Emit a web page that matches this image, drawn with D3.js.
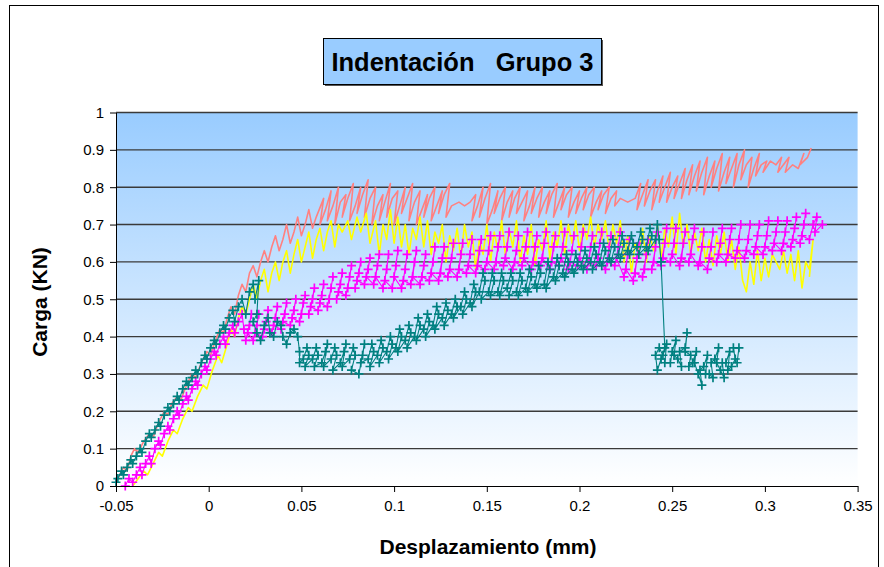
<!DOCTYPE html>
<html><head><meta charset="utf-8">
<script src="https://cdn.jsdelivr.net/npm/d3@7"></script>
<style>
body{margin:0;background:#fff;}
svg{display:block;font-family:"Liberation Sans",Arial,sans-serif;}
</style>
</head><body>
<svg id="c" width="884" height="567"></svg>
<script>
const titleText = "Indentación   Grupo 3";
const xTitle = "Desplazamiento (mm)";
const yTitle = "Carga (KN)";
const xTickValues = [-0.05,0,0.05,0.1,0.15,0.2,0.25,0.3,0.35];
const xTickLabels = ["-0.05","0","0.05","0.1","0.15","0.2","0.25","0.3","0.35"];
const yTickValues = [0,0.1,0.2,0.3,0.4,0.5,0.6,0.7,0.8,0.9,1];
const yTickLabels = ["0","0.1","0.2","0.3","0.4","0.5","0.6","0.7","0.8","0.9","1"];

// Series 1 (salmon line)
const salmon = [[-0.049,0.02],[-0.046,0.05],[-0.044,0.04],[-0.042,0.08],[-0.04,0.1],[-0.038,0.09],[-0.035,0.12],[-0.032,0.14],[-0.03,0.13],[-0.027,0.17],[-0.024,0.2],[-0.022,0.19],[-0.02,0.22],[-0.017,0.24],[-0.015,0.23],[-0.012,0.27],[-0.009,0.3],[-0.007,0.29],[-0.004,0.33],[-0.001,0.36],[0.001,0.35],[0.003,0.38],[0.006,0.42],[0.008,0.41],[0.01,0.45],[0.012,0.48],[0.014,0.46],[0.016,0.51],[0.018,0.54],[0.02,0.52],[0.022,0.57],[0.024,0.59],[0.026,0.56],[0.028,0.6],[0.03,0.63],[0.032,0.6],[0.034,0.64],[0.036,0.67],[0.038,0.63],[0.04,0.66],[0.042,0.7],[0.044,0.65],[0.046,0.68],[0.048,0.72],[0.05,0.67],[0.052,0.7],[0.054,0.74],[0.056,0.69],[0.058,0.72],
[0.062,0.77],[0.06,0.7],[0.063,0.74],[0.066,0.79],[0.064,0.71],[0.067,0.75],[0.07,0.8],[0.068,0.7],[0.071,0.76],[0.074,0.78],[0.072,0.72],[0.075,0.77],[0.078,0.81],[0.076,0.71],[0.079,0.75],[0.082,0.8],[0.08,0.73],[0.083,0.78],[0.086,0.82],[0.084,0.72],[0.087,0.77],[0.09,0.8],[0.088,0.7],[0.091,0.75],[0.094,0.78],[0.092,0.71],[0.095,0.76],[0.098,0.81],[0.096,0.72],[0.099,0.77],[0.102,0.79],[0.1,0.7],[0.103,0.75],[0.106,0.8],[0.104,0.73],[0.107,0.77],[0.11,0.81],[0.108,0.71],[0.111,0.76],[0.114,0.79],[0.112,0.7],[0.115,0.74],[0.118,0.78],[0.116,0.72],[0.119,0.77],[0.122,0.8],[0.12,0.71],[0.123,0.75],[0.126,0.79],[0.124,0.73],[0.127,0.78],[0.13,0.81],[0.128,0.72],[0.131,0.75],[0.135,0.76],[0.138,0.75],[0.141,0.76],[0.144,0.78],[0.142,0.71],[0.145,0.75],[0.148,0.8],[0.146,0.72],[0.149,0.77],[0.152,0.81],[0.15,0.7],[0.153,0.74],[0.156,0.79],[0.154,0.73],[0.157,0.77],[0.16,0.8],[0.158,0.71],[0.161,0.76],[0.164,0.79],[0.162,0.72],[0.165,0.77],[0.168,0.8],[0.166,0.73],[0.169,0.76],[0.172,0.79],[0.17,0.71],[0.173,0.75],[0.176,0.8],[0.174,0.73],[0.177,0.77],[0.18,0.8],[0.178,0.72],[0.181,0.76],[0.184,0.79],[0.182,0.73],[0.185,0.78],[0.188,0.81],[0.186,0.72],[0.189,0.76],[0.192,0.8],[0.19,0.74],[0.193,0.78],[0.196,0.8],[0.194,0.72],[0.197,0.76],[0.2,0.79],[0.198,0.73],[0.201,0.77],[0.204,0.8],[0.202,0.74],[0.205,0.78],[0.208,0.8],[0.206,0.72],[0.209,0.76],[0.212,0.79],[0.21,0.74],[0.213,0.78],[0.216,0.8],[0.214,0.73],[0.217,0.77],[0.22,0.79],[0.219,0.75],[0.222,0.77],[0.226,0.76],[0.23,0.77],[0.233,0.81],[0.231,0.74],[0.234,0.78],[0.237,0.82],[0.235,0.75],[0.238,0.79],[0.241,0.82],[0.239,0.74],[0.242,0.79],[0.245,0.83],[0.243,0.76],[0.246,0.8],[0.249,0.84],[0.247,0.76],[0.25,0.8],[0.253,0.83],[0.251,0.77],[0.254,0.81],[0.257,0.85],[0.255,0.77],[0.258,0.82],[0.261,0.86],[0.259,0.78],[0.262,0.83],[0.265,0.87],[0.263,0.79],[0.266,0.84],[0.269,0.88],[0.267,0.78],[0.27,0.83],[0.273,0.87],[0.271,0.8],[0.274,0.85],[0.277,0.89],[0.275,0.79],[0.278,0.84],[0.281,0.88],[0.279,0.81],[0.282,0.85],[0.285,0.89],[0.283,0.8],[0.286,0.86],[0.289,0.9],[0.287,0.82],[0.29,0.86],[0.293,0.88],[0.291,0.8],[0.294,0.85],[0.297,0.89],[0.295,0.83],[0.298,0.86],[0.301,0.87],[0.299,0.84],[0.303,0.87],[0.306,0.86],[0.309,0.88],[0.307,0.84],[0.31,0.86],[0.313,0.88],[0.311,0.84],[0.315,0.86],[0.318,0.85],[0.321,0.89],[0.319,0.86],[0.323,0.88],[0.325,0.905]];

// Series 2 (yellow line)
const yellow = [[-0.041,0.0],[-0.038,0.02],[-0.035,0.04],[-0.033,0.03],[-0.03,0.06],[-0.027,0.09],[-0.025,0.08],[-0.022,0.12],[-0.019,0.15],[-0.017,0.14],[-0.014,0.18],[-0.011,0.21],[-0.009,0.2],[-0.006,0.24],[-0.003,0.27],[-0.001,0.26],[0.002,0.31],[0.005,0.35],[0.007,0.33],[0.01,0.38],[0.012,0.42],[0.014,0.4],[0.016,0.45],[0.018,0.48],[0.02,0.46],[0.022,0.5],[0.024,0.54],[0.026,0.5],[0.028,0.55],[0.03,0.58],[0.032,0.52],[0.034,0.57],[0.036,0.6],[0.038,0.55],[0.04,0.6],[0.042,0.63],[0.044,0.57],[0.046,0.62],[0.048,0.66],[0.05,0.6],[0.052,0.64],[0.054,0.68],[0.056,0.61],[0.058,0.66],[0.06,0.69],[0.062,0.63],[0.064,0.68],[0.066,0.71],[0.068,0.64],[0.07,0.7],[0.072,0.68],[0.075,0.71],[0.077,0.66],[0.08,0.72],[0.082,0.68],[0.085,0.73],[0.087,0.65],[0.09,0.71],[0.092,0.62],[0.094,0.7],[0.096,0.66],[0.098,0.74],[0.1,0.65],
[0.102,0.72],[0.104,0.64],[0.106,0.7],[0.108,0.62],[0.11,0.69],[0.112,0.66],[0.114,0.72],[0.116,0.64],[0.118,0.71],[0.12,0.62],[0.122,0.68],[0.124,0.65],[0.126,0.7],[0.128,0.6],[0.13,0.67],[0.132,0.63],[0.134,0.69],[0.136,0.61],[0.138,0.7],[0.14,0.64],[0.142,0.68],[0.144,0.58],[0.146,0.66],[0.148,0.62],[0.15,0.7],[0.152,0.6],[0.154,0.68],[0.156,0.63],[0.158,0.71],[0.16,0.62],[0.162,0.69],[0.164,0.64],[0.166,0.71],[0.168,0.6],[0.17,0.67],[0.172,0.62],[0.174,0.7],[0.176,0.59],[0.178,0.66],[0.18,0.63],[0.182,0.71],[0.184,0.61],[0.186,0.68],[0.188,0.64],[0.19,0.71],[0.192,0.62],[0.194,0.7],[0.196,0.65],[0.198,0.71],[0.2,0.63],[0.202,0.7],[0.204,0.66],[0.206,0.72],[0.208,0.64],[0.21,0.7],[0.212,0.66],[0.214,0.71],[0.216,0.63],[0.218,0.7],[0.22,0.65],[0.222,0.71],[0.224,0.6],[0.226,0.67],[0.228,0.57],[0.23,0.65],[0.232,0.62],[0.234,0.69],[0.236,0.6],[0.238,0.67],[0.24,0.63],[0.242,0.7],[0.244,0.61],[0.246,0.69],[0.248,0.64],[0.25,0.72],[0.252,0.62],[0.254,0.73],[0.256,0.64],[0.258,0.7],[0.26,0.62],[0.262,0.68],[0.264,0.63],[0.266,0.69],[0.268,0.6],[0.27,0.66],[0.272,0.59],[0.274,0.67],[0.276,0.62],[0.278,0.68],[0.28,0.6],[0.282,0.66],[0.284,0.58],[0.286,0.64],[0.288,0.55],[0.29,0.52],[0.292,0.6],[0.294,0.54],[0.296,0.63],[0.298,0.55],[0.3,0.61],[0.302,0.56],[0.304,0.62],[0.306,0.6],[0.308,0.58],[0.31,0.63],[0.312,0.57],[0.314,0.62],[0.316,0.55],[0.318,0.63],[0.32,0.53],[0.322,0.6],[0.324,0.58],[0.326,0.66],[0.324,0.56]];

// Series 3 (magenta, + markers)
const magenta = [[-0.045,0.0],[-0.043,0.02],[-0.041,0.01],[-0.039,0.03],[-0.037,0.05],[-0.036,0.03],[-0.034,0.06],[-0.032,0.08],[-0.031,0.06],[-0.029,0.1],[-0.027,0.12],[-0.026,0.11],[-0.024,0.14],[-0.022,0.16],[-0.021,0.15],[-0.019,0.18],[-0.017,0.2],[-0.016,0.19],[-0.014,0.22],[-0.012,0.24],[-0.011,0.23],[-0.009,0.26],[-0.007,0.28],[-0.006,0.27],[-0.004,0.3],[-0.002,0.32],[-0.001,0.31],[0.001,0.34],[0.003,0.36],[0.004,0.35],[0.006,0.38],[0.008,0.4],[0.009,0.38],[0.011,0.41],[0.013,0.43],[0.014,0.41],[0.016,0.44],[0.018,0.46],
[0.019,0.42],[0.02,0.39],[0.022,0.43],[0.023,0.46],[0.021,0.41],
[0.024,0.39],[0.026,0.43],[0.027,0.46],[0.025,0.41],
[0.029,0.4],[0.031,0.44],[0.032,0.47],[0.03,0.42],
[0.034,0.41],[0.036,0.45],[0.037,0.48],[0.035,0.43],
[0.039,0.42],[0.041,0.46],[0.042,0.49],[0.04,0.44],
[0.044,0.43],[0.046,0.47],[0.047,0.5],[0.045,0.45],
[0.049,0.44],[0.051,0.49],[0.052,0.51],[0.05,0.46],
[0.054,0.46],[0.056,0.5],[0.057,0.53],[0.055,0.48],
[0.059,0.47],[0.061,0.51],[0.062,0.54],[0.06,0.49],
[0.064,0.48],[0.066,0.53],[0.067,0.56],[0.065,0.5],
[0.069,0.5],[0.071,0.54],[0.072,0.57],[0.07,0.52],
[0.074,0.51],[0.076,0.56],[0.077,0.59],[0.075,0.53],
[0.079,0.53],[0.081,0.57],[0.082,0.6],[0.08,0.55],
[0.084,0.54],[0.086,0.58],[0.087,0.61],[0.085,0.56],
[0.089,0.54],[0.091,0.59],[0.092,0.62],[0.09,0.56],
[0.094,0.53],[0.096,0.58],[0.097,0.62],[0.095,0.55],
[0.099,0.53],[0.101,0.59],[0.102,0.63],[0.1,0.56],
[0.104,0.53],[0.106,0.58],[0.107,0.62],[0.105,0.55],
[0.109,0.54],[0.111,0.6],[0.112,0.63],[0.11,0.56],
[0.114,0.54],[0.116,0.59],[0.117,0.62],[0.115,0.56],
[0.119,0.55],[0.121,0.6],[0.122,0.64],[0.12,0.57],
[0.124,0.55],[0.126,0.61],[0.127,0.64],[0.125,0.57],
[0.129,0.56],[0.131,0.61],[0.132,0.65],[0.13,0.58],
[0.134,0.56],[0.136,0.62],[0.137,0.65],[0.135,0.58],
[0.139,0.57],[0.141,0.62],[0.142,0.66],[0.14,0.59],
[0.144,0.57],[0.146,0.63],[0.147,0.66],[0.145,0.59],
[0.149,0.58],[0.151,0.63],[0.152,0.67],[0.15,0.6],
[0.154,0.58],[0.156,0.64],[0.157,0.67],[0.155,0.6],
[0.159,0.59],[0.161,0.64],[0.162,0.68],[0.16,0.61],
[0.164,0.58],[0.166,0.63],[0.167,0.67],[0.165,0.6],
[0.169,0.59],[0.171,0.64],[0.172,0.68],[0.17,0.61],
[0.174,0.58],[0.176,0.64],[0.177,0.67],[0.175,0.6],
[0.179,0.59],[0.181,0.65],[0.182,0.68],[0.18,0.61],
[0.184,0.58],[0.186,0.64],[0.187,0.67],[0.185,0.6],
[0.189,0.59],[0.191,0.64],[0.192,0.68],[0.19,0.61],
[0.194,0.58],[0.196,0.63],[0.197,0.67],[0.195,0.6],
[0.199,0.59],[0.201,0.64],[0.202,0.68],[0.2,0.61],
[0.204,0.58],[0.206,0.64],[0.207,0.67],[0.205,0.6],
[0.209,0.59],[0.211,0.65],[0.212,0.68],[0.21,0.61],
[0.214,0.58],[0.216,0.64],[0.217,0.67],[0.215,0.6],
[0.219,0.59],[0.221,0.64],[0.222,0.68],[0.22,0.61],
[0.224,0.56],[0.226,0.62],[0.227,0.66],[0.225,0.58],
[0.229,0.55],[0.231,0.61],[0.232,0.65],[0.23,0.57],
[0.234,0.56],[0.236,0.62],[0.237,0.66],[0.235,0.58],
[0.239,0.58],[0.241,0.64],[0.242,0.68],[0.24,0.6],
[0.244,0.59],[0.246,0.65],[0.247,0.69],[0.245,0.61],
[0.249,0.6],[0.251,0.65],[0.252,0.69],[0.25,0.62],
[0.254,0.59],[0.256,0.65],[0.257,0.68],[0.255,0.61],
[0.259,0.6],[0.261,0.66],[0.262,0.69],[0.26,0.62],
[0.264,0.59],[0.266,0.64],[0.267,0.68],[0.265,0.6],
[0.269,0.58],[0.271,0.64],[0.272,0.68],[0.27,0.61],
[0.274,0.6],[0.276,0.65],[0.277,0.69],[0.275,0.62],
[0.279,0.6],[0.281,0.66],[0.282,0.69],[0.28,0.62],
[0.284,0.61],[0.286,0.66],[0.287,0.7],[0.285,0.63],
[0.289,0.61],[0.291,0.66],[0.292,0.7],[0.29,0.63],
[0.294,0.62],[0.296,0.67],[0.297,0.7],[0.295,0.64],
[0.299,0.62],[0.301,0.67],[0.302,0.71],[0.3,0.64],
[0.304,0.63],[0.306,0.68],[0.307,0.71],[0.305,0.65],
[0.309,0.63],[0.311,0.68],[0.312,0.71],[0.31,0.65],
[0.314,0.64],[0.316,0.69],[0.317,0.72],[0.315,0.66],
[0.319,0.65],[0.321,0.7],[0.322,0.73],[0.32,0.67],
[0.324,0.66],[0.326,0.7],[0.328,0.72],[0.327,0.68],[0.331,0.7]];

// Series 4 (teal, + markers)
const teal = [[-0.05,0.01],[-0.049,0.02],[-0.047,0.04],[-0.046,0.03],[-0.044,0.05],[-0.042,0.07],[-0.041,0.06],[-0.039,0.08],[-0.037,0.1],[-0.036,0.09],[-0.034,0.12],[-0.032,0.14],[-0.031,0.13],[-0.029,0.15],[-0.027,0.17],[-0.026,0.16],[-0.024,0.19],[-0.022,0.21],[-0.021,0.2],[-0.019,0.22],[-0.017,0.24],[-0.016,0.23],[-0.014,0.26],[-0.012,0.28],[-0.011,0.27],[-0.009,0.29],[-0.007,0.31],[-0.006,0.3],[-0.004,0.33],[-0.002,0.35],[-0.001,0.34],[0.001,0.37],[0.003,0.39],[0.004,0.38],[0.006,0.41],[0.008,0.43],[0.009,0.42],[0.011,0.45],[0.013,0.47],[0.014,0.44],[0.016,0.48],[0.018,0.5],[0.02,0.46],[0.022,0.52],[0.024,0.54],[0.025,0.5],[0.027,0.55],[0.026,0.46],[0.024,0.44],[0.026,0.41],[0.028,0.39],[0.03,0.43],[0.032,0.45],[0.033,0.41],[0.035,0.4],[0.037,0.44],[0.039,0.43],[0.04,0.4],[0.042,0.38],[0.044,0.41],[0.046,0.42],[0.048,0.4],
[0.049,0.36],[0.049,0.33],
[0.051,0.34],[0.053,0.37],[0.054,0.35],[0.052,0.32],
[0.056,0.34],[0.058,0.37],[0.059,0.35],[0.057,0.32],
[0.061,0.33],[0.063,0.36],[0.064,0.38],[0.062,0.32],
[0.066,0.34],[0.068,0.37],[0.069,0.35],[0.067,0.31],
[0.071,0.33],[0.073,0.36],[0.074,0.38],[0.072,0.32],
[0.076,0.34],[0.078,0.37],[0.079,0.35],[0.077,0.31],
[0.081,0.3],[0.083,0.35],[0.084,0.38],[0.082,0.33],
[0.086,0.34],[0.088,0.38],[0.089,0.36],[0.087,0.32],
[0.091,0.35],[0.093,0.39],[0.094,0.37],[0.092,0.33],
[0.096,0.36],[0.098,0.4],[0.099,0.38],[0.097,0.34],
[0.101,0.37],[0.103,0.42],[0.104,0.4],[0.102,0.36],
[0.106,0.39],[0.108,0.43],[0.109,0.41],[0.107,0.37],
[0.111,0.4],[0.113,0.45],[0.114,0.43],[0.112,0.39],
[0.116,0.42],[0.118,0.46],[0.119,0.44],[0.117,0.4],
[0.121,0.43],[0.123,0.48],[0.124,0.46],[0.122,0.42],
[0.126,0.45],[0.128,0.49],[0.129,0.47],[0.127,0.43],
[0.131,0.46],[0.133,0.5],[0.134,0.48],[0.132,0.45],
[0.136,0.48],[0.138,0.52],[0.139,0.5],[0.137,0.46],
[0.141,0.49],[0.143,0.54],[0.144,0.52],[0.142,0.48],
[0.146,0.52],[0.148,0.57],[0.149,0.55],[0.147,0.5],
[0.151,0.52],[0.153,0.57],[0.154,0.55],[0.152,0.51],
[0.156,0.52],[0.158,0.57],[0.159,0.55],[0.157,0.51],
[0.161,0.53],[0.163,0.57],[0.164,0.55],[0.162,0.51],
[0.166,0.52],[0.168,0.57],[0.169,0.55],[0.167,0.51],
[0.171,0.53],[0.173,0.58],[0.174,0.56],[0.172,0.52],
[0.176,0.54],[0.178,0.59],[0.179,0.57],[0.177,0.53],
[0.181,0.54],[0.183,0.6],[0.184,0.58],[0.182,0.53],
[0.186,0.56],[0.188,0.61],[0.189,0.59],[0.187,0.55],
[0.191,0.57],[0.193,0.62],[0.194,0.6],[0.192,0.56],
[0.196,0.58],[0.198,0.62],[0.199,0.6],[0.197,0.57],
[0.201,0.59],[0.203,0.63],[0.204,0.61],[0.202,0.58],
[0.206,0.6],[0.208,0.64],[0.209,0.62],[0.207,0.58],
[0.211,0.6],[0.213,0.65],[0.214,0.63],[0.212,0.59],
[0.216,0.61],[0.218,0.66],[0.219,0.64],[0.217,0.6],
[0.221,0.62],[0.223,0.67],[0.224,0.65],[0.222,0.61],
[0.226,0.63],[0.228,0.67],[0.229,0.65],[0.227,0.62],
[0.231,0.64],[0.233,0.68],[0.234,0.66],[0.232,0.62],
[0.236,0.64],[0.238,0.69],[0.239,0.67],[0.237,0.63],
[0.241,0.66],[0.242,0.7],[0.243,0.66],[0.244,0.6],
[0.246,0.37],[0.244,0.34],[0.242,0.31],[0.241,0.35],[0.243,0.37],[0.245,0.35],[0.247,0.38],[0.246,0.33],[0.249,0.33],[0.25,0.36],[0.252,0.39],[0.251,0.35],[0.253,0.34],[0.255,0.32],[0.254,0.36],[0.257,0.37],[0.258,0.41],[0.257,0.36],[0.26,0.35],[0.259,0.32],[0.261,0.33],[0.263,0.36],[0.262,0.33],[0.264,0.3],[0.266,0.27],[0.265,0.31],[0.267,0.32],[0.269,0.35],[0.268,0.3],[0.27,0.3],[0.272,0.29],[0.271,0.33],[0.273,0.34],[0.275,0.37],[0.274,0.33],[0.276,0.31],[0.278,0.29],[0.277,0.33],[0.279,0.33],[0.281,0.36],[0.28,0.31],[0.282,0.32],[0.284,0.34],[0.283,0.37],[0.286,0.37],[0.285,0.33]];

const svg = d3.select("#c");
const x = d3.scaleLinear().domain([-0.05, 0.35]).range([116, 857.6]);
const y = d3.scaleLinear().domain([0, 1]).range([486, 112.5]);
const [x0, x1] = x.range(), [y0, y1] = y.range();

// chart area
svg.append("rect").attr("x", 9.5).attr("y", 5.5).attr("width", 869).attr("height", 620)
  .attr("fill", "#fff").attr("stroke", "#000").attr("stroke-width", 1);

// plot background gradient
const defs = svg.append("defs");
const g = defs.append("linearGradient").attr("id", "bg").attr("x1", 0).attr("y1", 0).attr("x2", 0).attr("y2", 1);
g.append("stop").attr("offset", "0%").attr("stop-color", "#99CCFF");
g.append("stop").attr("offset", "100%").attr("stop-color", "#FFFFFF");
defs.append("clipPath").attr("id", "clip").append("rect")
  .attr("x", x0 - 5).attr("y", y1 - 5).attr("width", x1 - x0 + 10).attr("height", y0 - y1 + 10);

svg.append("rect").attr("x", x0).attr("y", y1).attr("width", x1 - x0).attr("height", y0 - y1)
  .attr("fill", "url(#bg)");

// gridlines
svg.append("g").selectAll("line").data(yTickValues.filter(v => v > 0)).join("line")
  .attr("x1", x0).attr("x2", x1).attr("y1", d => y(d)).attr("y2", d => y(d))
  .attr("stroke", "#3a3a3a").attr("stroke-width", 1.4);

// series
const plot = svg.append("g").attr("clip-path", "url(#clip)");
const line = d3.line().x(d => x(d[0])).y(d => y(d[1]));
function drawLine(data, color, w) {
  plot.append("path").datum(data).attr("d", line).attr("fill", "none")
    .attr("stroke", color).attr("stroke-width", w).attr("stroke-linejoin", "round");
}
function drawMarkers(data, color) {
  plot.append("g").selectAll("path").data(data).join("path")
    .attr("transform", d => `translate(${x(d[0])},${y(d[1])})`)
    .attr("d", "M-4.5,0H4.5M0,-4.5V4.5").attr("stroke", color).attr("stroke-width", 1.7).attr("fill", "none");
}
drawLine(salmon, "#FF8080", 1.6);
drawLine(yellow, "#FFFF00", 1.6);
drawLine(magenta, "#FF00FF", 1.1);
drawMarkers(magenta, "#FF00FF");
drawLine(teal, "#008080", 1.1);
drawMarkers(teal, "#008080");

// axes
const xAxis = d3.axisBottom(x).tickValues(xTickValues).tickFormat((d, i) => xTickLabels[i])
  .tickSize(6).tickSizeOuter(0).tickPadding(8);
const gx = svg.append("g").attr("transform", `translate(0,${y0})`).call(xAxis);
gx.select(".domain").attr("stroke", "#000");
gx.selectAll("text").attr("font-size", 15).attr("font-family", "Liberation Sans, Arial, sans-serif").attr("fill", "#000");

const yAxis = d3.axisLeft(y).tickValues(yTickValues).tickFormat((d, i) => yTickLabels[i])
  .tickSize(6).tickSizeOuter(0).tickPadding(6);
const gy = svg.append("g").attr("transform", `translate(${x0},0)`).call(yAxis);
gy.select(".domain").attr("stroke", "#000");
gy.selectAll("text").attr("font-size", 15).attr("font-family", "Liberation Sans, Arial, sans-serif").attr("fill", "#000");

// axis titles
svg.append("text").attr("x", 488).attr("y", 554).attr("text-anchor", "middle")
  .attr("font-size", 21).attr("font-weight", "bold").text(xTitle);
svg.append("text").attr("transform", "translate(47,302) rotate(-90)").attr("text-anchor", "middle")
  .attr("font-size", 21).attr("font-weight", "bold").text(yTitle);

// title box
svg.append("rect").attr("x", 325).attr("y", 40).attr("width", 278).attr("height", 46).attr("fill", "#555");
svg.append("rect").attr("x", 323.5).attr("y", 38.5).attr("width", 278).attr("height", 46)
  .attr("fill", "#99CCFF").attr("stroke", "#000").attr("stroke-width", 1);
svg.append("text").attr("x", 462.5).attr("y", 71).attr("text-anchor", "middle")
  .attr("font-size", 25.5).attr("font-weight", "bold")
  .style("white-space", "pre").text(titleText);
</script>
</body></html>
